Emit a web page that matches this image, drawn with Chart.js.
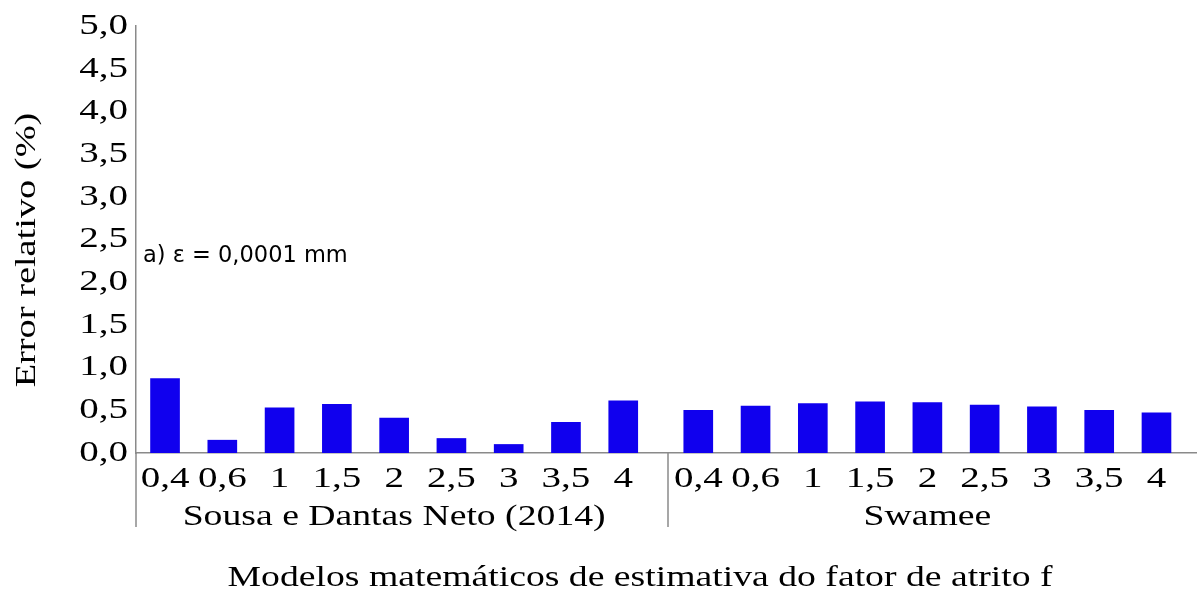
<!DOCTYPE html>
<html>
<head>
<meta charset="utf-8">
<script src="https://cdn.jsdelivr.net/npm/chart.js@4/dist/chart.umd.min.js"></script>
<style>
  html, body { margin: 0; padding: 0; background: #ffffff; }
  #wrap { width: 1197px; height: 592px; position: relative; }
</style>
</head>
<body>
<div id="wrap"><canvas id="errorChart"></canvas></div>
<script>
// values
const roughLabels = ["0,4", "0,6", "1", "1,5", "2", "2,5", "3", "3,5", "4"];
const groupNames = ["Sousa e Dantas Neto (2014)", "Swamee"];
const sousaValues = [0.87, 0.15, 0.53, 0.57, 0.41, 0.17, 0.10, 0.36, 0.61];
const swameeValues = [0.50, 0.55, 0.58, 0.60, 0.59, 0.56, 0.54, 0.50, 0.47];
const yTicks = [0, 0.5, 1, 1.5, 2, 2.5, 3, 3.5, 4, 4.5, 5];
const noteText = "a) \u03b5 = 0,0001 mm";
const xTitle = "Modelos matem\u00e1ticos de estimativa do fator de atrito f";
const yTitle = "Error relativo (%)";

const GROUP_GAP = 0.31; // extra space between the two groups (in category units)
const groupStart = [0, roughLabels.length + GROUP_GAP];
const separatorAt = roughLabels.length - 1 + 0.79;

const groupValues = [sousaValues, swameeValues];
const points = [];
const tickLabels = [];
groupValues.forEach((vals, g) => {
  vals.forEach((v, i) => {
    points.push({ x: groupStart[g] + i, y: v });
    tickLabels.push(roughLabels[i]);
  });
});

const serif = "'Liberation Serif', 'Times New Roman', serif";
const axisGray = "#8a8a8a";
const SERIF_STRETCH = 1.3; // the original serif text is drawn wide

// widen the serif text the way the original figure shows it
const wideSerif = {
  id: "wideSerif",
  beforeInit(chart) {
    const ctx = chart.ctx;
    const origFill = CanvasRenderingContext2D.prototype.fillText;
    ctx.fillText = function (text, x, y) {
      if (this.font.indexOf("Liberation Serif") < 0) {
        return origFill.call(this, text, x, y);
      }
      this.save();
      this.translate(x, y);
      this.scale(SERIF_STRETCH, 1);
      origFill.call(this, text, 0, 0);
      this.restore();
    };
  }
};

// draws the group labels, separators, axis titles and the note
const extras = {
  id: "extras",
  afterDraw(chart) {
    const { ctx, scales: { x, y } } = chart;
    const base = y.getPixelForValue(0);
    ctx.save();
    ctx.strokeStyle = axisGray;
    ctx.lineWidth = 1.5;
    const sepX = Math.round(x.getPixelForValue(separatorAt));
    const leftX = chart.chartArea.left;
    ctx.beginPath();
    ctx.moveTo(sepX, base);
    ctx.lineTo(sepX, 527);
    ctx.moveTo(leftX, base);
    ctx.lineTo(leftX, 527);
    ctx.stroke();

    ctx.fillStyle = "#000";
    ctx.font = "29px " + serif;
    ctx.textAlign = "center";
    ctx.textBaseline = "middle";
    const mid0 = (x.getPixelForValue(groupStart[0]) + x.getPixelForValue(groupStart[0] + 8)) / 2;
    const mid1 = (x.getPixelForValue(groupStart[1]) + x.getPixelForValue(groupStart[1] + 8)) / 2;
    ctx.fillText(groupNames[0], mid0, 517);
    ctx.fillText(groupNames[1], mid1, 517);

    // axis titles
    ctx.fillText(xTitle, 640, 578);
    ctx.save();
    ctx.translate(27, 250);
    ctx.rotate(-Math.PI / 2);
    ctx.font = "29.5px " + serif;
    ctx.fillText(yTitle, 0, 0);
    ctx.restore();

    ctx.font = "22.5px 'DejaVu Sans', sans-serif";
    ctx.textAlign = "left";
    ctx.textBaseline = "alphabetic";
    ctx.fillText(noteText, leftX + 7, 262);
    ctx.restore();
  }
};

new Chart(document.getElementById("errorChart").getContext("2d"), {
  type: "bar",
  data: {
    datasets: [{
      data: points,
      backgroundColor: "#1000ee",
      borderWidth: 0,
      barThickness: 29
    }]
  },
  options: {
    responsive: true,
    maintainAspectRatio: false,
    animation: false,
    layout: { padding: { top: 22, right: 1, left: 0, bottom: 0 } },
    plugins: { legend: { display: false }, tooltip: { enabled: false } },
    scales: {
      x: {
        type: "linear",
        offset: false,
        min: -0.507,
        max: 18.0,
        grid: { display: false, drawTicks: false },
        border: { color: axisGray, width: 1.5 },
        afterBuildTicks(scale) {
          scale.ticks = points.map(p => ({ value: p.x }));
        },
        afterFit(scale) { scale.height = 139; },
        ticks: {
          autoSkip: false,
          maxRotation: 0,
          padding: 8,
          color: "#000",
          font: { family: serif, size: 30 },
          callback: (value, index) => tickLabels[index]
        }
      },
      y: {
        min: 0,
        max: 5,
        grid: { display: false, drawTicks: false },
        border: { color: axisGray, width: 1.5 },
        afterBuildTicks(scale) {
          scale.ticks = yTicks.map(v => ({ value: v }));
        },
        afterFit(scale) { scale.width = 136; },
        ticks: {
          padding: 8,
          color: "#000",
          font: { family: serif, size: 30 },
          callback: v => v.toFixed(1).replace(".", ",")
        }
      }
    }
  },
  plugins: [wideSerif, extras]
});
</script>
</body>
</html>
